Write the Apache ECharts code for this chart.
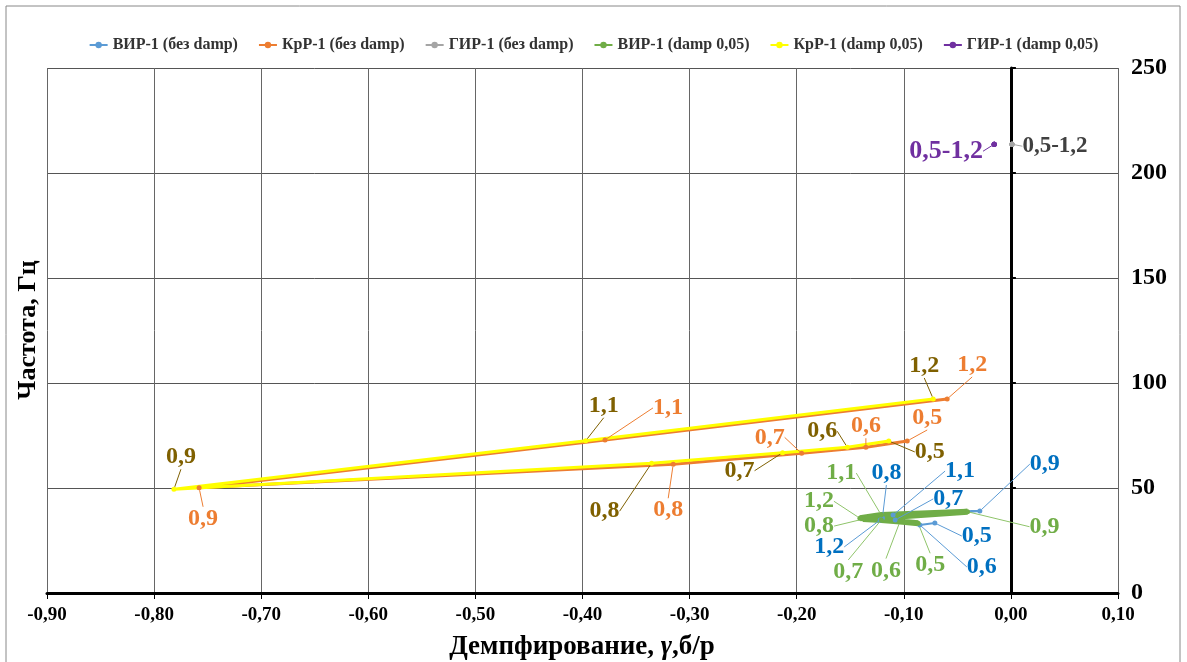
<!DOCTYPE html>
<html>
<head>
<meta charset="utf-8">
<script src="https://cdn.jsdelivr.net/npm/echarts@6/dist/echarts.min.js"></script>
<style>
html, body { margin: 0; padding: 0; background: #fff; }
#chart { width: 1187px; height: 662px; }
</style>
</head>
<body>
<div id="chart"></div>
<script>
// parameter values shown as point labels
const params = ['0,5', '0,6', '0,7', '0,8', '0,9', '1,1', '1,2'];

// ВИР-1 (без damp)
const virX = [-0.071, -0.085, -0.108, -0.120, -0.029, -0.110, -0.122];
const virY = [33.3, 32.4, 34.8, 35.7, 39.0, 37.1, 34.8];
// КрР-1 (без damp)
const krX = [-0.0968, -0.1354, -0.1954, -0.3153, -0.758, -0.379, -0.0595];
const krY = [72.4, 69.4, 66.5, 61.3, 50.1, 72.9, 92.4];
// ГИР-1 (без damp)
const girX = [0.001, 0.001, 0.001, 0.001, 0.001, 0.001, 0.001];
const girY = [213.7, 213.7, 213.7, 213.7, 213.7, 213.7, 213.7];
// ВИР-1 (damp 0,05)
const virdX = [-0.0866, -0.1036, -0.121, -0.138, -0.0405, -0.121, -0.141];
const virdY = [33.2, 34.0, 34.8, 35.2, 38.7, 37.1, 35.6];
// КрР-1 (damp 0,05)
const krdX = [-0.114, -0.1528, -0.2132, -0.3355, -0.7815, -0.397, -0.0725];
const krdY = [72.4, 69.4, 66.8, 61.8, 49.4, 72.5, 92.4];
// ГИР-1 (damp 0,05)
const girdX = [-0.0156, -0.0156, -0.0156, -0.0156, -0.0156, -0.0156, -0.0156];
const girdY = [213.7, 213.7, 213.7, 213.7, 213.7, 213.7, 213.7];

const xTicks = { min: -0.9, max: 0.1, step: 0.1 };
const yTicks = { min: 0, max: 250, step: 50 };

// label offsets (px from the point), one per point
const offVir = [[42, 13], [62, 42], [53, -21], [4, -45], [65, -47], [67, -44], [-51, 27]];
const offKr = [[20, -23], [0, -21], [-32, -16], [-5, 46], [4, 31], [63, -32], [25, -34]];
const offGir = [[43, 2]];
const offVird = [[12, 42], [-14, 49], [-33, 52], [-44, 7], [77, 15], [-40, -42], [-41, -17]];
const offKrd = [[41, 11], [-25, -16], [-43, 18], [-47, 48], [7, -32], [18, -35], [-9, -33]];
const offGird = [[-48, 7]];

const FONT = '"Liberation Serif", "Times New Roman", serif';

function makeSeries(name, xs, ys, color, labelColor, leaderColor, width, offsets, single, fontSize) {
    const data = xs.map((x, i) => ({
        value: [x, ys[i]],
        label: { show: single ? i === 0 : true },
        labelLine: { show: single ? i === 0 : true }
    }));
    return {
        name: name,
        type: 'line',
        data: data,
        symbol: 'circle',
        symbolSize: 5,
        lineStyle: { width: width, color: color },
        itemStyle: { color: color },
        label: {
            show: true,
            formatter: (p) => single ? '0,5-1,2' : params[p.dataIndex],
            color: labelColor,
            fontFamily: FONT,
            fontWeight: 'bold',
            fontSize: fontSize || 24
        },
        labelLine: { show: true, lineStyle: { color: leaderColor, width: 1 } },
        labelLayout: (p) => {
            const o = offsets[p.dataIndex] || [0, 0];
            return {
                x: p.rect.x + p.rect.width / 2 + o[0],
                y: p.rect.y + p.rect.height / 2 + o[1],
                align: 'center',
                verticalAlign: 'middle'
            };
        },
        z: 3
    };
}

const chart = echarts.init(document.getElementById('chart'));

const fmtX = (v) => (Math.abs(v) < 1e-9 ? 0 : v).toFixed(2).replace('.', ',');

chart.setOption({
    animation: false,
    textStyle: { fontFamily: FONT },
    grid: { left: 47, right: 69, top: 68, bottom: 69 },
    legend: {
        top: 32,
        left: 'center',
        itemGap: 20,
        itemWidth: 18,
        itemHeight: 8,
        textStyle: { fontFamily: FONT, fontWeight: 'bold', fontSize: 16, color: '#333' }
    },
    xAxis: {
        type: 'value',
        min: xTicks.min,
        max: xTicks.max,
        interval: xTicks.step,
        axisLine: { onZero: false, lineStyle: { color: '#000', width: 3 } },
        axisTick: { show: true, length: 6, lineStyle: { color: '#000', width: 1 } },
        axisLabel: {
            formatter: fmtX, color: '#000', fontFamily: FONT,
            fontWeight: 'bold', fontSize: 19, margin: 13
        },
        splitLine: { show: true, lineStyle: { color: '#666', width: 1 } }
    },
    yAxis: [{
        type: 'value',
        position: 'right',
        min: yTicks.min,
        max: yTicks.max,
        interval: yTicks.step,
        axisLine: { show: false, onZero: false },
        axisTick: { show: false },
        axisLabel: {
            color: '#000', fontFamily: FONT, fontWeight: 'bold',
            fontSize: 24, margin: 13
        },
        splitLine: { show: true, lineStyle: { color: '#555', width: 1 } }
    }, {
        type: 'value',
        position: 'right',
        min: yTicks.min,
        max: yTicks.max,
        interval: yTicks.step,
        axisLine: { show: true, onZero: true, lineStyle: { color: '#000', width: 3 } },
        axisTick: { show: true, length: 5, lineStyle: { color: '#000', width: 2 } },
        axisLabel: { show: false },
        splitLine: { show: false }
    }],
    graphic: [
        {
            type: 'rect',
            shape: { x: 6, y: 6, width: 1174, height: 660 },
            style: { fill: 'none', stroke: '#888', lineWidth: 1 },
            silent: true
        },
        {
            type: 'text',
            x: 28, y: 330,
            rotation: Math.PI / 2,
            style: {
                text: 'Частота, Гц',
                fontFamily: FONT, fontWeight: 'bold', fontSize: 26,
                fill: '#000', align: 'center', verticalAlign: 'middle'
            }
        },
        {
            type: 'text',
            x: 582, y: 647,
            style: {
                text: '{a|Демпфирование, }{b|γ}{a|,б/р}',
                align: 'center', verticalAlign: 'middle',
                rich: {
                    a: { fontFamily: FONT, fontWeight: 'bold', fontSize: 27, fill: '#000' },
                    b: { fontFamily: FONT, fontWeight: 'bold', fontStyle: 'italic', fontSize: 27, fill: '#000' }
                }
            }
        }
    ],
    series: [
        makeSeries('ВИР-1 (без damp)', virX, virY, '#5B9BD5', '#0070C0', '#5B9BD5', 2, offVir, false),
        makeSeries('КрР-1 (без damp)', krX, krY, '#ED7D31', '#ED7D31', '#ED7D31', 3, offKr, false),
        makeSeries('ГИР-1 (без damp)', girX, girY, '#A5A5A5', '#404040', '#A5A5A5', 2, offGir, true, 23),
        makeSeries('ВИР-1 (damp 0,05)', virdX, virdY, '#70AD47', '#70AD47', '#8FC46A', 6, offVird, false),
        makeSeries('КрР-1 (damp 0,05)', krdX, krdY, '#FFFF00', '#7F6000', '#7F6000', 3, offKrd, false),
        makeSeries('ГИР-1 (damp 0,05)', girdX, girdY, '#7030A0', '#7030A0', '#7030A0', 2, offGird, true, 26)
    ]
});
</script>
</body>
</html>
